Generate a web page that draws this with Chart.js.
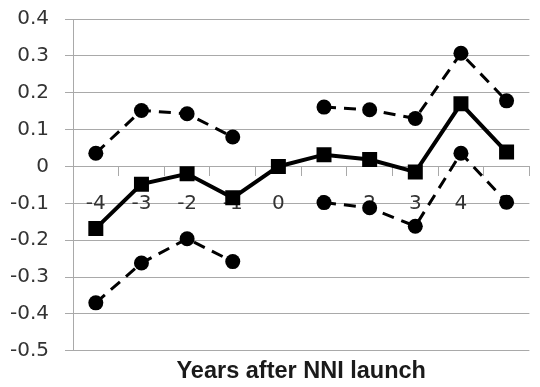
<!DOCTYPE html>
<html>
<head>
<meta charset="utf-8">
<script src="https://cdn.jsdelivr.net/npm/chart.js@4/dist/chart.umd.min.js"></script>
<style>
  html, body { margin: 0; padding: 0; background: #ffffff; }
  #wrap { width: 540px; height: 387px; }
</style>
</head>
<body>
<div id="wrap"><canvas id="c" width="540" height="387"></canvas></div>
<script>
// Data
const categories = ['-4', '-3', '-2', '-1', '0', '1', '2', '3', '4', '5'];
const estimate   = [-0.168, -0.048, -0.020, -0.085, 0.000, 0.032, 0.019, -0.015, 0.170, 0.039];
const upperBound = [0.036, 0.152, 0.143, 0.080, null, 0.161, 0.154, 0.130, 0.307, 0.178];
const lowerBound = [-0.370, -0.262, -0.196, -0.258, null, -0.098, -0.112, -0.162, 0.036, -0.097];
const yMin = -0.5;
const yMax = 0.4;
const yStep = 0.1;
const xTitle = 'Years after NNI launch';

const gridColor = '#a9a9a9';
const textColor = '#333333';
const tickFont = { family: '"DejaVu Sans", "Liberation Sans", sans-serif', size: 20 };

new Chart(document.getElementById('c'), {
  type: 'line',
  data: {
    labels: categories,
    datasets: [
      {
        label: 'Estimate',
        data: estimate,
        borderColor: '#000000',
        backgroundColor: '#000000',
        borderWidth: 4,
        pointStyle: 'rect',
        pointRadius: 10.6,
        pointBorderWidth: 0,
        pointBackgroundColor: '#000000',
        tension: 0,
        spanGaps: false
      },
      {
        label: 'Upper bound',
        data: upperBound,
        borderColor: '#000000',
        backgroundColor: '#000000',
        borderWidth: 3,
        borderDash: [12, 8],
        pointStyle: 'circle',
        pointRadius: 7.5,
        pointBorderWidth: 0,
        pointBackgroundColor: '#000000',
        tension: 0,
        spanGaps: false
      },
      {
        label: 'Lower bound',
        data: lowerBound,
        borderColor: '#000000',
        backgroundColor: '#000000',
        borderWidth: 3,
        borderDash: [12, 8],
        pointStyle: 'circle',
        pointRadius: 7.5,
        pointBorderWidth: 0,
        pointBackgroundColor: '#000000',
        tension: 0,
        spanGaps: false
      }
    ]
  },
  options: {
    responsive: false,
    animation: false,
    devicePixelRatio: 1,
    layout: { padding: { top: 19, right: 2, left: 0, bottom: 0 } },
    plugins: {
      legend: { display: false },
      tooltip: { enabled: false },
      title: {
        display: true,
        position: 'bottom',
        fullSize: false,
        text: xTitle,
        color: '#1a1a1a',
        font: { family: '"Liberation Sans", Arial, sans-serif', size: 23.5, weight: 'bold' },
        padding: { top: 7, bottom: 1 }
      }
    },
    scales: {
      x: {
        type: 'category',
        position: { y: 0 },
        offset: true,
        afterFit: (scale) => { scale.height = 0; scale.paddingTop = 0; scale.paddingBottom = 0; },
        grid: {
          display: true,
          drawOnChartArea: false,
          drawTicks: true,
          tickLength: 9,
          color: gridColor,
          lineWidth: 1,
          offset: true
        },
        border: { display: true, color: gridColor, width: 1 },
        ticks: {
          color: textColor,
          padding: 16,
          maxRotation: 0,
          autoSkip: false,
          font: tickFont
        }
      },
      y: {
        type: 'linear',
        min: yMin,
        max: yMax,
        afterFit: (scale) => { scale.width = 73; scale.paddingTop = 0; scale.paddingBottom = 0; },
        grid: {
          display: true,
          drawTicks: true,
          tickLength: 8,
          color: gridColor,
          lineWidth: 1
        },
        border: { display: true, color: gridColor, width: 1 },
        ticks: {
          stepSize: yStep,
          color: textColor,
          padding: 16,
          font: tickFont,
          callback: (v) => String(Math.round(v * 10) / 10)
        }
      }
    }
  }
});
</script>
</body>
</html>
